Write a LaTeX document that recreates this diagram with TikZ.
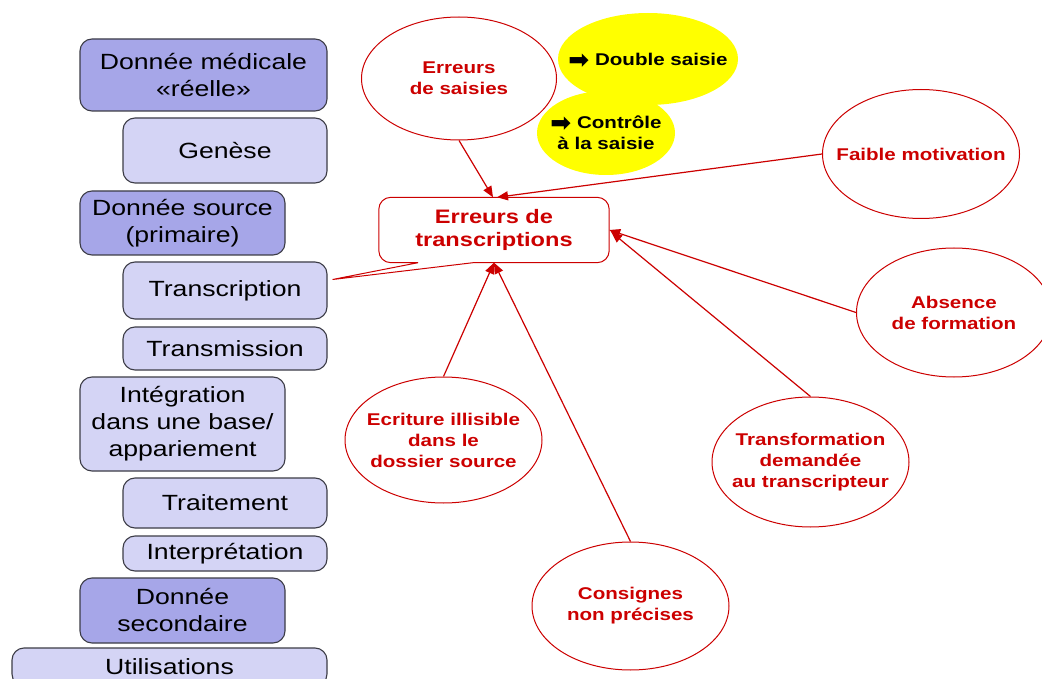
\documentclass[tikz,border=0pt]{standalone}
\usepackage{fontspec}
\setmainfont[FakeStretch=1.21]{Liberation Sans}
\newfontfamily\dejavu{DejaVu Sans}
\usetikzlibrary{arrows.meta,shapes.geometric,calc}
\definecolor{darkbox}{RGB}{166,166,232}
\definecolor{lightbox}{RGB}{212,212,245}
\definecolor{boxline}{RGB}{60,60,70}
\definecolor{errred}{RGB}{204,0,0}
\definecolor{yell}{RGB}{255,255,0}
\newcommand{\thickarrow}{{\dejavu\fontsize{25}{21}\selectfont\smash{\raisebox{-3pt}{➡}}}}
\tikzset{
  stagebox/.style={draw=boxline, line width=1.1pt, rounded corners=12pt, align=center, inner sep=0pt,
     font=\fontsize{22}{27}\selectfont, text=black},
  darkstage/.style={stagebox, fill=darkbox},
  lightstage/.style={stagebox, fill=lightbox},
  causetext/.style={align=center, inner sep=0pt, text=errred, font=\bfseries\fontsize{17}{21}\selectfont},
  remedytext/.style={align=center, inner sep=0pt, text=black, font=\bfseries\fontsize{17}{21}\selectfont},
  cause/.style={ellipse, draw=errred, line width=1pt, fill=white, inner sep=0pt,
     label={[causetext]center:#1}},
  remedy/.style={ellipse, fill=yell, draw=none, inner sep=0pt,
     label={[remedytext]center:#1}},
  arr/.style={draw=errred, line width=1.2pt, -{Triangle[length=11pt,width=9pt]}},
}
\begin{document}
\begin{tikzpicture}[x=1pt,y=-1pt]
\useasboundingbox (0,0) rectangle (1042,679);
\fill[white] (0,0) rectangle (1042,679);

% left column
\node[darkstage, minimum width=247pt, minimum height=72pt] (dm) at (203.5,75) {Donnée médicale\\«réelle»};
\node[lightstage, minimum width=204pt, minimum height=65pt] (ge) at (225,150.5) {Genèse};
\node[darkstage, minimum width=205pt, minimum height=64pt] (ds) at (182.5,223) {Donnée source\\(primaire)};
\node[lightstage, minimum width=204pt, minimum height=57pt] (tc) at (225,290.5) {Transcription};
\node[lightstage, minimum width=204pt, minimum height=43pt] (tm) at (225,348.5) {Transmission};
\node[lightstage, minimum width=205pt, minimum height=94pt] (ig) at (182.5,424) {Intégration\\dans une base/\\appariement};
\node[lightstage, minimum width=204pt, minimum height=50pt] (tt) at (225,503) {Traitement};
\node[lightstage, minimum width=204pt, minimum height=35pt] (ip) at (225,553.5) {Interprétation};
\node[darkstage, minimum width=205pt, minimum height=65pt] (dsec) at (182.5,610.5) {Donnée\\secondaire};
\node[lightstage, minimum width=315pt, minimum height=38pt] (ut) at (169.5,667) {Utilisations};

% central callout
\node[minimum width=230pt, minimum height=65pt, inner sep=0pt, align=center, text=errred,
      font=\bfseries\fontsize{19.5}{23}\selectfont] (et) at (494,230) {Erreurs de\\transcriptions};
\coordinate (tip) at ($(tc.east)+(5,-11)$);
\draw[errred, line width=1pt] ($(et.south)+(-76,0)$) [rounded corners=12pt] -- (et.south west) -- (et.north west)
   -- (et.north east) -- (et.south east) [sharp corners] -- ($(et.south)+(-21,0)$) -- (tip) -- cycle;

% causes
\node[cause={Erreurs\\de saisies}, minimum width=195pt, minimum height=123pt] (es) at (459,78.5) {};
\node[remedy={\thickarrow\ Double saisie}, minimum width=180pt, minimum height=92pt] (dbl) at (648,59) {};
\node[remedy={\thickarrow\ Contrôle\\à la saisie}, minimum width=138pt, minimum height=84pt] (ctl) at (606,133) {};
\node[cause={Faible motivation}, minimum width=197pt, minimum height=129pt] (fm) at (921,154) {};
\node[cause={Absence\\de formation}, minimum width=195pt, minimum height=129pt] (ab) at (954,312.5) {};
\node[cause={Ecriture illisible\\dans le\\dossier source}, minimum width=197pt, minimum height=126pt] (ec) at (443.5,440) {};
\node[cause={Transformation\\demandée\\au transcripteur}, minimum width=197pt, minimum height=130pt] (tr) at (810.5,462) {};
\node[cause={Consignes\\non précises}, minimum width=197pt, minimum height=128pt] (co) at (630.5,606) {};

% connectors
\draw[arr] (es.south) -- ($(et.north)+(-1,0)$);
\draw[arr] (fm.west) -- ($(et.north)+(3,0)$);
\draw[arr] (ab.west) -- (et.east);
\draw[arr] (tr.north) -- ($(et.east)+(2,2)$);
\draw[arr] (ec.north) -- (et.south);
\draw[arr] (co.north) -- (et.south);
\end{tikzpicture}
\end{document}
